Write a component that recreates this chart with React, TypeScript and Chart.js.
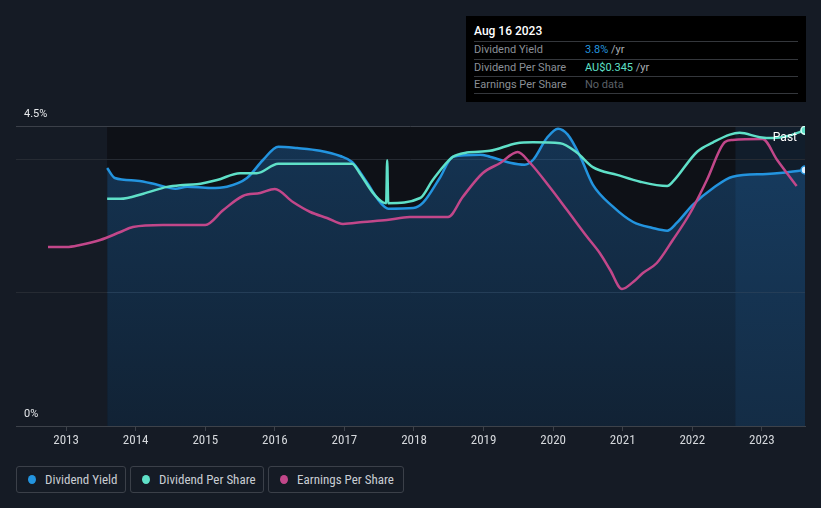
import React, { useEffect, useRef } from 'react';
import { Chart, registerables } from 'chart.js';

Chart.register(...registerables);

// ---------- data ----------
const yieldYears = [2013.59, 2013.7, 2014.02, 2014.31, 2014.57, 2014.74, 2015.07, 2015.31, 2015.6, 2015.83, 2016.05, 2016.32, 2016.65, 2016.94, 2017.11, 2017.32, 2017.51, 2017.63, 2017.99, 2018.13, 2018.37, 2018.56, 2018.95, 2019.09, 2019.38, 2019.59, 2019.71, 2019.91, 2020.07, 2020.21, 2020.39, 2020.57, 2020.86, 2021.15, 2021.43, 2021.64, 2021.78, 2022.01, 2022.3, 2022.58, 2023.07, 2023.3, 2023.62];
const yieldValues = [3.87, 3.72, 3.68, 3.62, 3.56, 3.59, 3.57, 3.59, 3.72, 3.99, 4.19, 4.17, 4.13, 4.05, 3.96, 3.66, 3.36, 3.26, 3.27, 3.35, 3.72, 4.04, 4.07, 4.04, 3.95, 3.92, 3.99, 4.32, 4.46, 4.37, 4.04, 3.62, 3.29, 3.06, 2.97, 2.93, 3.05, 3.32, 3.57, 3.74, 3.78, 3.8, 3.84];

const dpsYears = [2013.59, 2013.78, 2014.11, 2014.45, 2014.64, 2014.88, 2015.17, 2015.5, 2015.74, 2016.05, 2017.11, 2017.22, 2017.41, 2017.55, 2017.6, 2017.615, 2017.63, 2018.09, 2018.27, 2018.56, 2018.76, 2019.09, 2019.48, 2019.71, 2020.1, 2020.34, 2020.57, 2020.92, 2021.25, 2021.64, 2021.72, 2022.07, 2022.3, 2022.54, 2022.68, 2022.97, 2023.16, 2023.36, 2023.62];
const dpsValues = [0.265, 0.265, 0.271, 0.279, 0.281, 0.282, 0.287, 0.295, 0.295, 0.306, 0.306, 0.295, 0.272, 0.261, 0.26, 0.31, 0.26, 0.266, 0.287, 0.314, 0.319, 0.321, 0.33, 0.331, 0.33, 0.319, 0.302, 0.293, 0.285, 0.28, 0.285, 0.32, 0.331, 0.34, 0.342, 0.337, 0.336, 0.338, 0.345];

const epsYears = [2012.74, 2013.01, 2013.2, 2013.49, 2013.78, 2013.96, 2014.39, 2015.0, 2015.26, 2015.54, 2015.79, 2016.0, 2016.26, 2016.51, 2016.75, 2016.98, 2017.27, 2017.61, 2017.94, 2018.49, 2018.7, 2018.99, 2019.24, 2019.49, 2019.67, 2019.95, 2020.2, 2020.49, 2020.67, 2020.82, 2020.99, 2021.15, 2021.29, 2021.49, 2021.72, 2021.97, 2022.21, 2022.47, 2022.58, 2023.01, 2023.22, 2023.5];
const epsValues = [0.2685, 0.2685, 0.2715, 0.279, 0.291, 0.2985, 0.3015, 0.3015, 0.324, 0.345, 0.3495, 0.3555, 0.336, 0.321, 0.312, 0.303, 0.306, 0.309, 0.3135, 0.3135, 0.3435, 0.3795, 0.3945, 0.411, 0.3945, 0.3585, 0.324, 0.2835, 0.2595, 0.234, 0.2055, 0.216, 0.2295, 0.2445, 0.279, 0.3195, 0.369, 0.426, 0.429, 0.4305, 0.399, 0.36];

const xTickYears = [2013, 2014, 2015, 2016, 2017, 2018, 2019, 2020, 2021, 2022, 2023];
const yTickValues = [0, 2, 4, 4.5];
const yTickLabels = ['0%', '', '', '4.5%'];
const xMin = 2012.28;
const xMax = 2023.62;
const yMax = 4.5;
const dpsMax = 0.35;
const epsMax = 0.45;
const dataStartYear = 2013.59;
const pastStartYear = 2022.62;

const tooltipDate = 'Aug 16 2023';
const tooltipRows = [
  { label: 'Dividend Yield', value: '3.8%', unit: ' /yr', color: '#2394df' },
  { label: 'Dividend Per Share', value: 'AU$0.345', unit: ' /yr', color: '#5fe0c8' },
  { label: 'Earnings Per Share', value: 'No data', unit: '', color: '#5c6068' },
];
const legendItems = [
  { label: 'Dividend Yield', color: '#2394df', width: 110 },
  { label: 'Dividend Per Share', color: '#5fe0c8', width: 134 },
  { label: 'Earnings Per Share', color: '#c2478a', width: 136 },
];

const COND = "'Liberation Sans Narrow', 'Roboto Condensed', Roboto, sans-serif";

const bandsPlugin = {
  id: 'bands',
  beforeDraw(chart: any) {
    const { ctx, chartArea, scales } = chart;
    const x0 = scales.x.getPixelForValue(dataStartYear);
    const xp = scales.x.getPixelForValue(pastStartYear);
    ctx.save();
    ctx.fillStyle = '#0e1117';
    ctx.fillRect(x0, chartArea.top, chartArea.right - x0, chartArea.bottom - chartArea.top);
    ctx.fillStyle = 'rgba(40,120,190,0.12)';
    ctx.fillRect(xp, chartArea.top, chartArea.right - xp, chartArea.bottom - chartArea.top);
    ctx.restore();
  },
  afterDatasetsDraw(chart: any) {
    const { ctx, chartArea } = chart;
    ctx.save();
    ctx.fillStyle = '#ffffff';
    ctx.font = '12px Roboto, sans-serif';
    ctx.textAlign = 'right';
    ctx.textBaseline = 'middle';
    ctx.fillText('Past', chartArea.right - 8, chartArea.top + 12);
    ctx.restore();
  },
};

export default function App() {
  const ref = useRef<HTMLCanvasElement | null>(null);

  useEffect(() => {
    document.body.style.margin = '0';
    document.body.style.background = '#151b25';
    const canvas = ref.current;
    if (!canvas) return;
    const lastY = yieldValues.length - 1;
    const lastD = dpsValues.length - 1;
    const chart = new Chart(canvas, {
      type: 'line',
      data: {
        datasets: [
          {
            label: 'Dividend Yield',
            data: yieldYears.map((x, i) => ({ x, y: yieldValues[i] })),
            borderColor: '#2394df',
            borderWidth: 2.5,
            yAxisID: 'y',
            fill: 'origin',
            backgroundColor: (c: any) => {
              const { chart: ch } = c;
              const area = ch.chartArea;
              if (!area) return 'rgba(33,120,200,0.25)';
              const g = ch.ctx.createLinearGradient(0, area.top, 0, area.bottom);
              g.addColorStop(0, 'rgba(33,120,200,0.34)');
              g.addColorStop(1, 'rgba(33,120,200,0.17)');
              return g;
            },
            cubicInterpolationMode: 'monotone',
            pointRadius: (c: any) => (c.dataIndex === lastY ? 4 : 0),
            pointBackgroundColor: '#dcefff',
            pointBorderColor: '#2394df',
            pointBorderWidth: 1.5,
            order: 3,
            clip: 0,
          } as any,
          {
            label: 'Earnings Per Share',
            data: epsYears.map((x, i) => ({ x, y: epsValues[i] })),
            borderColor: '#c2478a',
            borderWidth: 2.5,
            yAxisID: 'yEps',
            fill: false,
            cubicInterpolationMode: 'monotone',
            pointRadius: 0,
            order: 2,
          } as any,
          {
            label: 'Dividend Per Share',
            data: dpsYears.map((x, i) => ({ x, y: dpsValues[i] })),
            borderColor: '#5fe0c8',
            borderWidth: 2.5,
            yAxisID: 'yDps',
            fill: false,
            cubicInterpolationMode: 'monotone',
            pointRadius: (c: any) => (c.dataIndex === lastD ? 4 : 0),
            pointBackgroundColor: '#5fe0c8',
            pointBorderColor: '#d8fff6',
            pointBorderWidth: 1.5,
            order: 1,
            clip: 0,
          } as any,
        ],
      },
      options: {
        animation: false,
        responsive: false,
        maintainAspectRatio: false,
        layout: { padding: { left: 16, right: 16, top: 126, bottom: 0 } },
        plugins: { legend: { display: false }, tooltip: { enabled: false } },
        scales: {
          x: {
            type: 'linear',
            min: xMin,
            max: xMax,
            afterBuildTicks: (s: any) => {
              s.ticks = xTickYears.map((v) => ({ value: v }));
            },
            afterFit: (s: any) => {
              s.height = 34;
            },
            ticks: {
              color: '#d5d8dc',
              font: { family: COND, size: 13 },
              padding: 2,
              maxRotation: 0,
              autoSkip: false,
              callback: (v: any) => String(v),
            },
            grid: { drawOnChartArea: false, drawTicks: true, tickLength: 5, color: '#3d424a' },
            border: { color: '#3d424a', width: 1 },
          },
          y: {
            type: 'linear',
            position: 'left',
            min: 0,
            max: yMax,
            afterBuildTicks: (s: any) => {
              s.ticks = yTickValues.map((v) => ({ value: v }));
            },
            afterFit: (s: any) => {
              s.width = 0;
            },
            ticks: {
              mirror: true,
              padding: 8,
              labelOffset: -12,
              color: '#e6e8eb',
              font: { family: 'Roboto, sans-serif', size: 11 },
              callback: (v: any) => {
                const i = yTickValues.indexOf(Number(v));
                return i >= 0 ? yTickLabels[i] : '';
              },
            },
            grid: {
              drawTicks: false,
              color: (c: any) =>
                c.tick && c.tick.value === 4.5 ? '#3b4049' : c.tick && c.tick.value === 0 ? 'rgba(0,0,0,0)' : '#262b33',
            },
            border: { display: false },
          },
          yDps: { type: 'linear', display: false, min: 0, max: dpsMax },
          yEps: { type: 'linear', display: false, min: 0, max: epsMax },
        },
      } as any,
      plugins: [bandsPlugin],
    });
    return () => chart.destroy();
  }, []);

  return (
    <div
      style={{
        position: 'absolute',
        left: 0,
        top: 0,
        width: 821,
        height: 508,
        background: '#151b25',
        overflow: 'hidden',
        fontFamily: 'Roboto, sans-serif',
      }}
    >
      <canvas ref={ref} width={821} height={460} style={{ position: 'absolute', left: 0, top: 0 }} />
      <div
        style={{
          position: 'absolute',
          left: 466,
          top: 16,
          width: 340,
          height: 86,
          background: '#000000',
        }}
      >
        <div
          style={{
            position: 'absolute',
            left: 8,
            top: 7,
            height: 16,
            lineHeight: '16px',
            fontSize: 12,
            fontWeight: 500,
            color: '#ffffff',
          }}
        >
          {tooltipDate}
        </div>
        {tooltipRows.map((r, i) => (
          <div
            key={r.label}
            style={{
              position: 'absolute',
              left: 8,
              width: 324,
              top: 25 + i * 17.5,
              height: 17.5,
              borderTop: '1px solid #34373c',
              borderBottom: i === tooltipRows.length - 1 ? '1px solid #34373c' : 'none',
              boxSizing: 'border-box',
              fontSize: 11,
              lineHeight: '16px',
            }}
          >
            <span style={{ position: 'absolute', left: 0, color: '#8a8f96' }}>{r.label}</span>
            <span style={{ position: 'absolute', left: 111 }}>
              <span style={{ color: r.color }}>{r.value}</span>
              <span style={{ color: '#a9adb3' }}>{r.unit}</span>
            </span>
          </div>
        ))}
      </div>
      <div style={{ position: 'absolute', left: 16, top: 466, display: 'flex', gap: 4 }}>
        {legendItems.map((it) => (
          <div
            key={it.label}
            style={{
              width: it.width,
              height: 27,
              boxSizing: 'border-box',
              border: '1px solid #3b4049',
              borderRadius: 3,
              display: 'flex',
              alignItems: 'center',
              paddingLeft: 11,
              fontFamily: COND,
              fontSize: 13,
              color: '#c9cdd3',
              whiteSpace: 'nowrap',
            }}
          >
            <span
              style={{
                display: 'inline-block',
                width: 8,
                height: 9,
                borderRadius: '50%',
                background: it.color,
                marginRight: 9,
              }}
            />
            {it.label}
          </div>
        ))}
      </div>
    </div>
  );
}
